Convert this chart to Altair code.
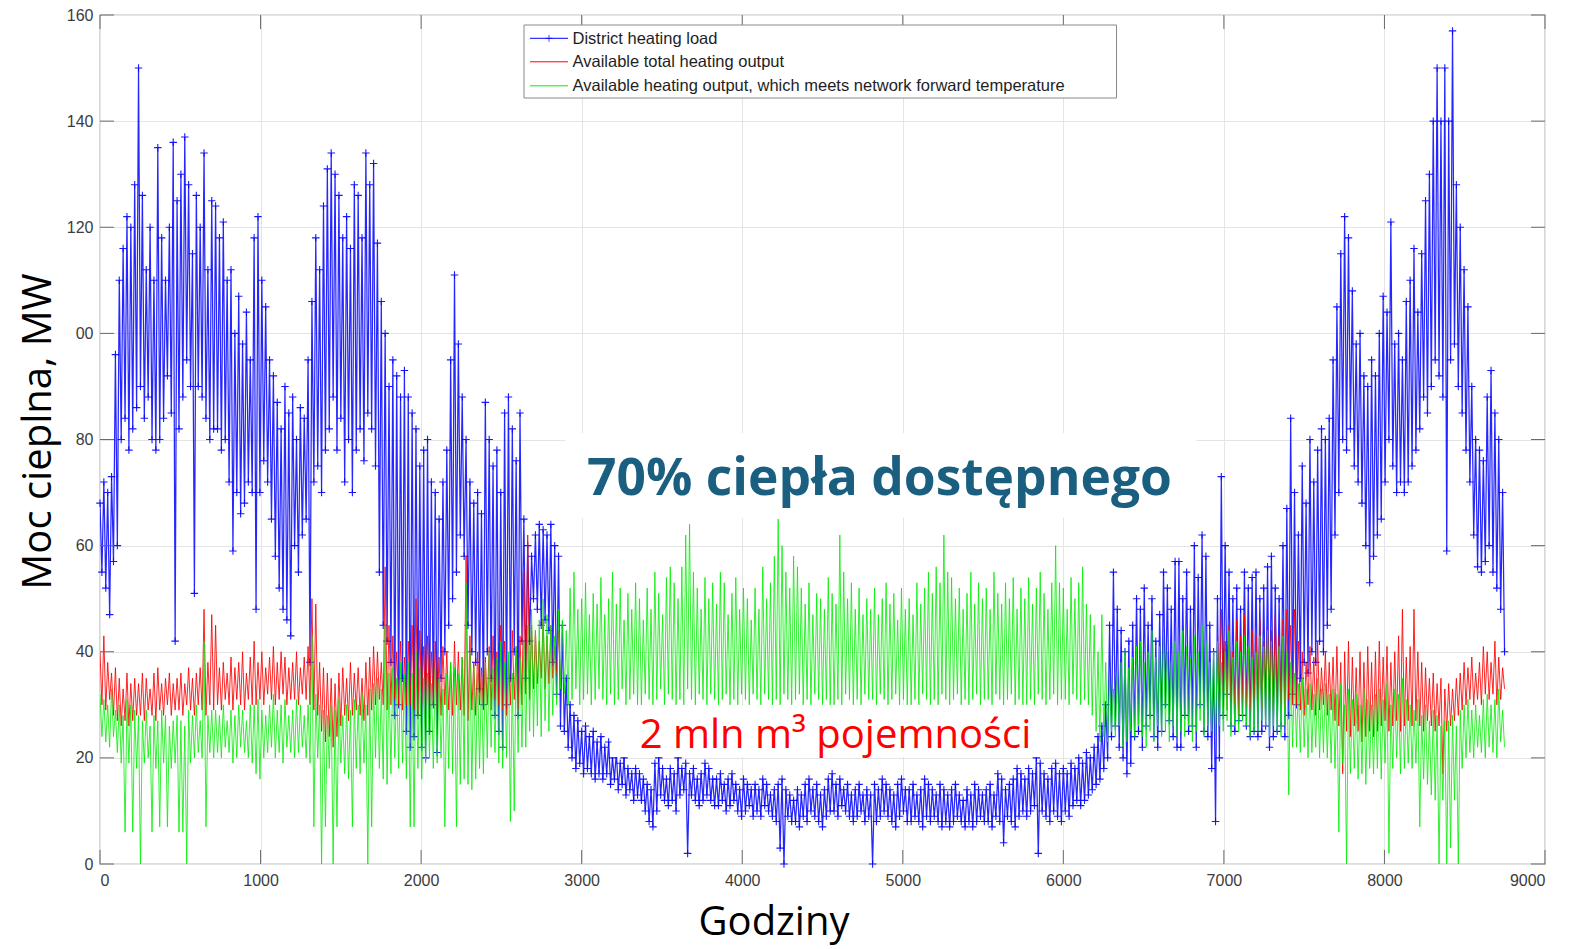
import altair as alt
import pandas as pd

# ---------------- data (one hi/lo pair per day) ----------------
blue_hi = [
    68, 72, 70, 73, 96, 110, 116, 122, 120, 128,
    150, 126, 112, 120, 110, 135, 118, 110, 120, 136,
    125, 130, 137, 128, 115, 126, 120, 134, 112, 125,
    124, 118, 121, 110, 112, 100, 107, 98, 104, 95,
    118, 122, 110, 105, 95, 92, 87, 82, 90, 85,
    88, 80, 86, 84, 95, 106, 118, 112, 124, 131,
    134, 130, 126, 118, 122, 116, 128, 126, 118, 134,
    128, 132, 117, 106, 100, 90, 95, 92, 88, 93,
    88, 85, 82, 75, 78, 80, 72, 70, 65, 72,
    78, 95, 111, 98, 88, 80, 72, 68, 70, 66,
    87, 80, 75, 78, 70, 85, 88, 82, 76, 85,
    65, 60, 58, 62, 64, 63, 62, 64, 60, 58,
    45, 35, 30, 28, 27, 25, 26, 24, 25, 23,
    24, 22, 23, 20, 21, 19, 20, 18, 17, 18,
    17, 16, 15, 14, 19, 20, 18, 16, 18, 17,
    20, 18, 19, 17, 18, 16, 17, 19, 18, 16,
    16, 17, 15, 16, 17, 15, 14, 16, 15, 14,
    15, 14, 16, 15, 13, 14, 15, 16, 14, 13,
    12, 14, 13, 15, 16, 14, 15, 13, 14, 16,
    17, 15, 16, 14, 15, 13, 14, 15, 13, 14,
    13, 15, 14, 16, 15, 14, 13, 15, 16, 14,
    14, 15, 13, 14, 16, 15, 14, 13, 15, 14,
    13, 14, 15, 13, 12, 14, 13, 15, 14, 13,
    14, 15, 13, 17, 16, 14, 15, 16, 18, 17,
    16, 18, 17, 20, 19, 17, 16, 18, 19, 17,
    18, 17, 19, 18, 20, 19, 21, 20, 22, 24,
    26, 30, 45, 55, 48, 44, 40, 42, 45, 50,
    48, 52, 45, 50, 42, 47, 55, 52, 48, 57,
    57, 50, 55, 48, 60, 54, 62, 58, 45, 40,
    50, 73, 60, 55, 50, 52, 48, 55, 52, 54,
    55, 50, 52, 56, 58, 52, 50, 60, 67, 84,
    70, 62, 75, 68, 80, 72, 78, 82, 80, 84,
    95, 105, 115, 122, 118, 108, 98, 100, 92, 90,
    95, 92, 100, 107, 104, 121, 98, 100, 95, 106,
    110, 116, 104, 115, 125, 130, 140, 150, 140, 150,
    140, 157, 128, 120, 112, 105, 90, 80, 78, 76,
    88, 93, 85, 80, 70,
]
blue_lo = [
    55, 52, 47, 57, 60, 80, 84, 78, 82, 86,
    90, 84, 88, 80, 78, 80, 84, 92, 85, 42,
    82, 88, 95, 90, 51, 90, 88, 84, 80, 82,
    82, 78, 80, 72, 59, 70, 66, 68, 72, 70,
    48, 70, 76, 72, 65, 58, 52, 48, 46, 43,
    60, 55, 62, 65, 38, 72, 75, 70, 78, 82,
    88, 78, 84, 72, 80, 70, 78, 82, 76, 85,
    82, 75, 55, 45, 42, 38, 28, 30, 35, 25,
    22, 24, 28, 22, 20, 25, 30, 21, 35, 40,
    45, 50, 55, 62, 58, 45, 40, 38, 33, 30,
    40, 35, 28, 25, 22, 30, 35, 40, 28, 42,
    35, 42, 50, 48, 45, 46, 44, 38, 32, 26,
    25, 22, 20, 18, 19, 17, 18, 17, 16, 17,
    16, 17, 15, 16, 14, 15, 13, 14, 12, 13,
    12, 10, 8, 7, 10, 13, 12, 11, 12, 10,
    13, 14, 2, 13, 12, 11, 12, 13, 12, 11,
    11, 12, 10, 11, 12, 10, 9, 10, 11, 9,
    10, 9, 11, 10, 9, 8, 3, 0, 9, 8,
    8, 7, 9, 8, 10, 9, 8, 7, 9, 10,
    10, 9, 11, 10, 9, 8, 9, 10, 8, 9,
    0, 8, 9, 10, 9, 8, 7, 9, 10, 8,
    8, 9, 8, 7, 9, 8, 9, 8, 7, 8,
    7, 8, 9, 8, 7, 8, 7, 8, 9, 8,
    8, 7, 9, 8, 4, 9, 8, 7, 9, 10,
    9, 10, 11, 2, 10, 9, 8, 10, 9, 8,
    10, 9, 11, 12, 11, 12, 13, 14, 15, 16,
    18, 20, 24, 26, 22, 20, 17, 19, 24, 25,
    22, 26, 28, 24, 22, 25, 30, 27, 24, 22,
    22, 28, 25, 26, 22, 30, 25, 24, 18, 8,
    20, 28, 32, 26, 25, 27, 28, 26, 24, 25,
    24, 25, 26, 22, 24, 25, 26, 24, 28, 32,
    30, 35, 38, 36, 40, 38, 42, 40, 45, 48,
    62, 70, 80, 78, 82, 75, 72, 68, 60, 53,
    58, 62, 65, 72, 80, 75, 70, 72, 70, 72,
    75, 78, 82, 88, 85, 90, 95, 92, 88, 59,
    95, 98, 90, 85, 78, 72, 62, 56, 55, 57,
    60, 55, 52, 48, 40,
]

green_hi = [
    32, 31, 30, 33, 29, 30, 28, 31, 30, 29,
    28, 27, 29, 26, 28, 27, 29, 28, 26, 27,
    28, 27, 26, 29, 28, 30, 27, 42, 28, 29,
    29, 28, 30, 27, 29, 28, 30, 29, 27, 30,
    30, 31, 29, 28, 30, 32, 29, 30, 31, 28,
    29, 31, 30, 28, 30, 43, 32, 30, 29, 28,
    30, 29, 31, 28, 30, 29, 31, 30, 32, 30,
    33, 34, 35, 33, 45, 36, 37, 35, 38, 36,
    38, 36, 40, 37, 35, 36, 34, 37, 35, 33,
    36, 38, 37, 36, 39, 53, 40, 37, 36, 35,
    38, 40, 37, 39, 42, 38, 40, 36, 41, 39,
    42, 45, 48, 44, 46, 50, 47, 45, 43, 48,
    46, 44, 52, 55, 48, 50, 53, 47, 51, 49,
    54, 47, 50, 55, 49, 52, 46, 51, 48, 53,
    50, 46, 52, 48, 55, 51, 47, 54, 56, 53,
    50, 56, 62, 64, 55, 52, 48, 54, 50, 53,
    49, 55, 53, 47, 51, 54, 48, 52, 50, 46,
    52, 48, 56, 50, 53, 58, 65, 60, 55, 52,
    58, 56, 52, 49, 53, 47, 51, 50, 48, 54,
    51, 49, 62, 55, 50, 53, 48, 52, 47, 50,
    48, 52, 47, 50, 53, 49, 51, 46, 52, 48,
    50, 47, 53, 49, 52, 55, 51, 56, 53, 62,
    55, 54, 50, 52, 48, 51, 55, 49, 53, 50,
    52, 48, 55, 51, 49, 53, 50, 54, 48, 52,
    50, 54, 49, 52, 55, 51, 48, 53, 60, 53,
    52, 48, 54, 50, 53, 56, 49, 47, 45, 40,
    47, 38, 35, 33, 36, 38, 40, 37, 39, 41,
    42, 38, 40, 44, 39, 41, 43, 40, 38, 42,
    40, 44, 41, 39, 43, 40, 45, 42, 38, 40,
    42, 38, 40, 44, 39, 42, 40, 43, 41, 39,
    40, 43, 41, 44, 42, 39, 41, 43, 40, 38,
    36, 34, 35, 33, 34, 32, 35, 33, 34, 32,
    33, 32, 34, 30, 33, 31, 32, 30, 33, 31,
    30, 32, 33, 31, 34, 30, 33, 32, 35, 31,
    30, 29, 31, 28, 30, 27, 29, 28, 26, 27,
    27, 28, 26, 29, 30, 31, 29, 30, 28, 31,
    32, 30, 31, 33, 29,
]
green_lo = [
    24, 23, 22, 24, 21, 19, 6, 19, 6, 18,
    0, 19, 20, 6, 18, 7, 19, 7, 18, 19,
    6, 6, 0, 19, 20, 21, 20, 7, 21, 20,
    21, 20, 22, 21, 19, 20, 22, 21, 20, 19,
    17, 16, 20, 21, 22, 20, 21, 19, 22, 21,
    20, 21, 22, 20, 19, 7, 20, 0, 7, 18,
    0, 7, 19, 17, 16, 7, 18, 17, 19, 0,
    7, 20, 18, 16, 15, 17, 20, 18, 19, 16,
    7, 7, 18, 16, 19, 20, 18, 19, 20, 7,
    18, 17, 7, 15, 16, 15, 14, 16, 18, 17,
    20, 22, 21, 19, 18, 20, 8, 10, 21, 22,
    22, 25, 24, 26, 24, 27, 25, 28, 30, 33,
    32, 30, 31, 33, 30, 31, 32, 30, 31, 33,
    31, 30, 32, 30, 31, 33, 30, 31, 32, 30,
    30, 32, 31, 30, 31, 33, 30, 32, 31, 30,
    31, 30, 33, 31, 30, 32, 31, 30, 32, 31,
    30, 31, 32, 30, 31, 30, 32, 31, 30, 32,
    31, 30, 32, 31, 30, 31, 30, 32, 31, 30,
    31, 32, 30, 31, 30, 32, 31, 30, 31, 30,
    30, 31, 30, 32, 31, 30, 31, 30, 32, 31,
    31, 30, 32, 31, 30, 31, 32, 30, 31, 30,
    30, 31, 30, 32, 31, 30, 31, 30, 32, 31,
    30, 31, 32, 30, 31, 30, 31, 32, 30, 31,
    31, 30, 32, 31, 30, 31, 32, 30, 31, 30,
    30, 31, 30, 32, 31, 30, 31, 32, 30, 31,
    31, 30, 32, 31, 30, 31, 30, 28, 25, 23,
    24, 23, 25, 24, 26, 22, 23, 25, 24, 26,
    24, 22, 25, 23, 26, 24, 25, 23, 26, 24,
    25, 24, 26, 23, 25, 27, 24, 26, 25, 24,
    26, 25, 27, 24, 26, 25, 27, 26, 24, 25,
    25, 27, 26, 24, 26, 25, 24, 26, 13, 22,
    22, 21, 22, 20, 21, 22, 20, 21, 20, 19,
    18, 6, 19, 0, 17, 18, 16, 17, 15, 18,
    17, 18, 16, 19, 2, 18, 20, 17, 18, 19,
    18, 19, 7, 16, 15, 13, 12, 0, 12, 0,
    3, 12, 0, 18, 20, 21, 20, 22, 21, 20,
    22, 21, 20, 23, 22,
]

# red (available total output): winter parts only, in summer it equals green
red_spring_hi = [
    40, 43, 38, 36, 37, 35, 33, 36, 34, 35,
    34, 36, 35, 33, 36, 37, 34, 35, 36, 34,
    35, 36, 34, 37, 35, 36, 37, 48, 38, 47,
    45, 37, 38, 36, 39, 37, 38, 40, 36, 39,
    42, 38, 40, 37, 39, 41, 38, 40, 39, 37,
    38, 40, 37, 39, 41, 50, 49, 38, 37, 36,
    35, 34, 36, 37, 35, 38, 36, 37, 35, 38,
    39, 41, 40, 38, 56, 45, 43, 40, 42, 39,
    42, 45, 50, 44, 41, 43, 40, 42, 39, 41,
    40, 38, 42, 40, 39, 58, 43, 38, 40, 37,
    39, 41, 43, 40, 45, 42, 39, 44, 41, 43,
    55, 62, 45, 44, 42, 46, 43, 45, 41, 44,
]
red_spring_lo = [
    30, 29, 31, 28, 27, 26, 27, 26, 27, 28,
    28, 27, 29, 28, 27, 29, 28, 30, 28, 29,
    29, 28, 30, 29, 28, 30, 29, 28, 30, 29,
    30, 29, 31, 30, 29, 31, 30, 29, 31, 30,
    30, 31, 30, 32, 31, 30, 31, 32, 30, 31,
    31, 30, 32, 31, 30, 29, 28, 25, 23, 24,
    22, 24, 26, 28, 27, 28, 29, 28, 27, 28,
    29, 30, 31, 30, 29, 30, 31, 30, 29, 30,
    30, 29, 28, 30, 29, 28, 30, 29, 28, 30,
    29, 28, 30, 29, 28, 27, 29, 28, 30, 29,
    30, 29, 31, 30, 29, 28, 30, 31, 29, 30,
    32, 31, 33, 34, 35, 33, 34, 35, 36, 34,
]
red_autumn_first_day = 290
red_autumn_hi = [
    44, 48, 42, 45, 40, 46, 43, 47, 41, 44,
    43, 46, 42, 45, 44, 47, 43, 46, 48, 45,
    48, 42, 40, 38, 41, 39, 42, 37, 40, 38,
    39, 41, 38, 40, 42, 39, 37, 40, 38, 41,
    38, 40, 42, 39, 41, 38, 40, 43, 48, 39,
    41, 48, 40, 38, 37, 35, 36, 34, 35, 33,
    34, 33, 35, 36, 38, 37, 39, 36, 38, 41,
    40, 38, 42, 39, 37,
]
red_autumn_lo = [
    30, 32, 29, 31, 30, 28, 31, 30, 29, 31,
    30, 29, 31, 30, 29, 31, 30, 29, 31, 30,
    30, 29, 28, 30, 29, 28, 29, 30, 28, 29,
    27, 26, 17, 25, 24, 26, 25, 23, 24, 25,
    24, 25, 26, 27, 25, 26, 27, 25, 26, 27,
    26, 27, 26, 25, 27, 26, 25, 26, 17, 25,
    26, 27, 28, 29, 30, 31, 30, 31, 30, 32,
    31, 32, 30, 31, 33,
]

x_ticks = [0, 1000, 2000, 3000, 4000, 5000, 6000, 7000, 8000, 9000]
y_ticks = [0, 20, 40, 60, 80, 100, 120, 140, 160]

series_names = [
    "District heating load",
    "Available total heating output",
    "Available heating output, which meets network forward temperature",
]


def daily(hi, lo, first_day=0, seg=0):
    rows = []
    for i, (h, l) in enumerate(zip(hi, lo)):
        d = first_day + i
        rows.append({"hour": d * 24, "mw": h, "seg": seg})
        rows.append({"hour": d * 24 + 12, "mw": l, "seg": seg})
    return rows


blue_df = pd.DataFrame(daily(blue_hi, blue_lo))
green_df = pd.DataFrame(daily(green_hi, green_lo))
red_df = pd.DataFrame(
    daily(red_spring_hi, red_spring_lo, 0, 0)
    + daily(red_autumn_hi, red_autumn_lo, red_autumn_first_day, 1)
)
xt_df = pd.DataFrame({"t": x_ticks})
yt_df = pd.DataFrame({"v": y_ticks})
one = pd.DataFrame({"k": [0]})

# ---------------- styling ----------------
W, H = 1445, 849
xs = alt.Scale(domain=[0, 9000], nice=False, zero=False)
ys = alt.Scale(domain=[0, 160], nice=False, zero=False)

xaxis = alt.Axis(
    values=x_ticks, format="d", grid=True, gridColor="#e4e4e4", domain=False, ticks=False,
    labelFont="Liberation Sans", labelFontSize=16, labelColor="#3c3c3c", labelPadding=8,
    title="Godziny", titleFont="Open Sans", titleFontSize=40, titleFontWeight="normal",
    titleColor="#000000", titleX=673.5, titleY=70, titleBaseline="alphabetic", titleAlign="center",
)
yaxis = alt.Axis(
    values=y_ticks, format="d", grid=True, gridColor="#e4e4e4", domain=False, ticks=False,
    labelFont="Liberation Sans", labelFontSize=16, labelColor="#3c3c3c", labelPadding=7,
    labelExpr="datum.value == 100 ? '00' : datum.label",
    title="Moc cieplna, MW", titleFont="Open Sans", titleFontSize=40, titleFontWeight="normal",
    titleColor="#000000", titleX=-50, titleY=416, titleBaseline="alphabetic", titleAlign="center",
    titleAngle=270,
)


def X(field):
    return alt.X(field, scale=xs, axis=xaxis)


def Y(field):
    return alt.Y(field, scale=ys, axis=yaxis)


plus = "M-1,0L1,0M0,-1L0,1"

blue_line = alt.Chart(blue_df).mark_line(color="#0000ff", strokeWidth=1.25, opacity=0.85, clip=True).encode(
    x=X("hour:Q"), y=Y("mw:Q"), order="hour:Q")
blue_pts = alt.Chart(blue_df).mark_point(shape=plus, size=56, filled=False, strokeWidth=1.1,
                                         color="#0000ff", opacity=0.9).encode(x=X("hour:Q"), y=Y("mw:Q"))
red_line = alt.Chart(red_df).mark_line(color="#ff0000", strokeWidth=1, opacity=0.85, clip=True).encode(
    x=X("hour:Q"), y=Y("mw:Q"), detail="seg:N", order="hour:Q")
green_line = alt.Chart(green_df).mark_line(color="#00ee00", strokeWidth=1, opacity=0.8, clip=True).encode(
    x=X("hour:Q"), y=Y("mw:Q"), order="hour:Q")

tick_col = "#6a6a6a"
xt_bottom = alt.Chart(xt_df).mark_rule(color=tick_col, strokeWidth=1).encode(
    x=X("t:Q"), y=alt.value(H), y2=alt.value(H - 14))
xt_top = alt.Chart(xt_df).mark_rule(color=tick_col, strokeWidth=1).encode(
    x=X("t:Q"), y=alt.value(0), y2=alt.value(14))
yt_left = alt.Chart(yt_df).mark_rule(color=tick_col, strokeWidth=1).encode(
    y=Y("v:Q"), x=alt.value(0), x2=alt.value(14))
yt_right = alt.Chart(yt_df).mark_rule(color=tick_col, strokeWidth=1).encode(
    y=Y("v:Q"), x=alt.value(W - 14), x2=alt.value(W))

# annotations with white backgrounds
box1 = alt.Chart(one).mark_rect(color="white").encode(
    x=alt.value(465.5), x2=alt.value(1096.5), y=alt.value(418), y2=alt.value(503))
txt1 = alt.Chart(one).mark_text(text="70% ciepła dostępnego", font="Open Sans", fontSize=51.5,
                                fontWeight="bold", color="#1b5f80", align="center",
                                baseline="alphabetic").encode(x=alt.value(779.5), y=alt.value(480))
box2 = alt.Chart(one).mark_rect(color="white").encode(
    x=alt.value(511.5), x2=alt.value(949.5), y=alt.value(690), y2=alt.value(742))
txt2 = alt.Chart(one).mark_text(text="2 mln m³ pojemności", font="Open Sans", fontSize=40,
                                color="#ff0000", align="center",
                                baseline="alphabetic").encode(x=alt.value(735.5), y=alt.value(733))

# legend
leg_box = alt.Chart(one).mark_rect(fill="white", stroke="#8a8a8a", strokeWidth=1).encode(
    x=alt.value(424), x2=alt.value(1016.5), y=alt.value(10), y2=alt.value(83))
leg_layers = [leg_box]
leg_colors = ["#0000ff", "#ff0000", "#00ee00"]
leg_y = [23.3, 46.8, 70.8]
for name, col, yy in zip(series_names, leg_colors, leg_y):
    leg_layers.append(alt.Chart(one).mark_rule(color=col, strokeWidth=1).encode(
        x=alt.value(430), x2=alt.value(468), y=alt.value(yy)))
    leg_layers.append(alt.Chart(one).mark_text(text=name, font="Liberation Sans", fontSize=16.5,
                                               color="#1e1e1e", align="left", baseline="middle").encode(
        x=alt.value(472.5), y=alt.value(yy + 0.5)))
leg_layers.append(alt.Chart(one).mark_point(shape=plus, size=49, filled=False, strokeWidth=1,
                                            color="#0000ff").encode(x=alt.value(449), y=alt.value(leg_y[0])))

chart = alt.layer(
    blue_line, blue_pts, red_line, green_line,
    xt_bottom, xt_top, yt_left, yt_right,
    box1, txt1, box2, txt2, *leg_layers,
).properties(
    width=W, height=H,
    autosize=alt.AutoSizeParams(type="none"),
    padding={"left": 92, "top": 7, "right": 30, "bottom": 84},
    background="white",
).configure_view(stroke="#7d7d7d", strokeWidth=1.2)

chart.save("out.html", embed_options={"renderer": "svg", "actions": False})
